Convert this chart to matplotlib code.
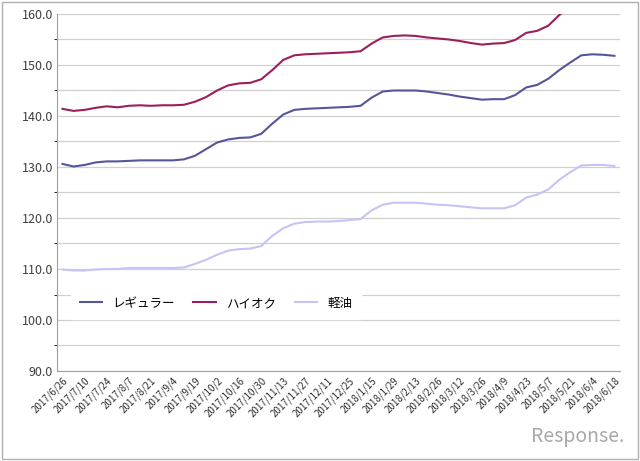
import matplotlib
matplotlib.use("Agg")
import matplotlib.pyplot as plt
from matplotlib.patches import Rectangle

plt.rcParams['font.family'] = ['Noto Sans CJK JP', 'DejaVu Sans']

# 週次データ (2017/6/26 ～ 2018/6/18, 年始の週は欠落)
dates = ["2017/6/26", "2017/7/3", "2017/7/10", "2017/7/17", "2017/7/24", "2017/7/31",
         "2017/8/7", "2017/8/14", "2017/8/21", "2017/8/28", "2017/9/4", "2017/9/11",
         "2017/9/19", "2017/9/25", "2017/10/2", "2017/10/10", "2017/10/16", "2017/10/23",
         "2017/10/30", "2017/11/6", "2017/11/13", "2017/11/20", "2017/11/27", "2017/12/4",
         "2017/12/11", "2017/12/18", "2017/12/25", "2018/1/9", "2018/1/15", "2018/1/22",
         "2018/1/29", "2018/2/5", "2018/2/13", "2018/2/19", "2018/2/26", "2018/3/5",
         "2018/3/12", "2018/3/19", "2018/3/26", "2018/4/2", "2018/4/9", "2018/4/16",
         "2018/4/23", "2018/4/30", "2018/5/7", "2018/5/14", "2018/5/21", "2018/5/28",
         "2018/6/4", "2018/6/11", "2018/6/18"]

regular = [130.6, 130.1, 130.4, 130.9, 131.1, 131.1, 131.2, 131.3, 131.3, 131.3,
           131.3, 131.5, 132.2, 133.5, 134.8, 135.4, 135.7, 135.8, 136.5, 138.5,
           140.3, 141.2, 141.4, 141.5, 141.6, 141.7, 141.8, 142.0, 143.6, 144.8,
           145.0, 145.0, 145.0, 144.8, 144.5, 144.2, 143.8, 143.5, 143.2, 143.3,
           143.3, 144.1, 145.6, 146.1, 147.3, 149.0, 150.5, 151.9, 152.1, 152.0,
           151.8]
highoc = [141.4, 141.0, 141.2, 141.6, 141.9, 141.7, 142.0, 142.1, 142.0, 142.1,
          142.1, 142.2, 142.8, 143.7, 145.0, 146.0, 146.4, 146.5, 147.2, 149.0,
          151.0, 151.9, 152.1, 152.2, 152.3, 152.4, 152.5, 152.7, 154.2, 155.4,
          155.7, 155.8, 155.7, 155.4, 155.2, 155.0, 154.7, 154.3, 154.0, 154.2,
          154.3, 154.9, 156.3, 156.7, 157.7, 159.8, 161.5, 162.8, 163.0, 163.0,
          162.8]
diesel = [109.9, 109.7, 109.7, 109.9, 110.0, 110.0, 110.2, 110.2, 110.2, 110.2,
          110.2, 110.3, 111.0, 111.8, 112.8, 113.6, 113.9, 114.0, 114.5, 116.5,
          118.0, 118.9, 119.2, 119.3, 119.3, 119.4, 119.6, 119.8, 121.5, 122.6,
          123.0, 123.0, 123.0, 122.8, 122.6, 122.5, 122.3, 122.1, 121.9, 121.9,
          121.9, 122.5, 124.0, 124.6, 125.6, 127.5, 129.0, 130.3, 130.4, 130.4,
          130.2]

fig = plt.figure(figsize=(6.4, 4.61), dpi=100)
fig.patches.append(Rectangle((0.003, 0.004), 0.994, 0.992, transform=fig.transFigure,
                             fill=False, edgecolor="#b0b0b0", linewidth=1))
ax = fig.add_axes([57 / 640, 1 - 371 / 461, 563 / 640, 357 / 461])

x = range(len(regular))
ax.plot(x, regular, color="#55559a", lw=1.5, label="レギュラー")
ax.plot(x, highoc, color="#9b1f5a", lw=1.5, label="ハイオク")
ax.plot(x, diesel, color="#c4c4f6", lw=1.5, label="軽油")

ax.set_xlim(-0.5, len(regular) - 0.5)
ax.set_ylim(90, 160)
ax.set_yticks(range(90, 161, 10))
ax.set_yticklabels([f"{v:.1f}" for v in range(90, 161, 10)], fontsize=9, color="#404040")
ax.set_yticks(range(95, 160, 10), minor=True)
ax.grid(True, which="both", axis="y", color="#d0d0d0", lw=0.9)
ax.set_axisbelow(True)
ax.set_xticks(list(x)[::2])
ax.set_xticklabels(dates[::2], rotation=45, ha="right",
                   rotation_mode="anchor", fontsize=7, color="#303030")
ax.tick_params(length=0, pad=3)
for s in ["top", "right"]:
    ax.spines[s].set_visible(False)
ax.spines["left"].set_color("#a0a0a0")
ax.spines["bottom"].set_color("#a0a0a0")

leg = ax.legend(loc="lower left", bbox_to_anchor=(0.02, 0.14), ncol=3, frameon=True,
                fontsize=9, handlelength=1.8, columnspacing=1.5, borderpad=0.4)
leg.get_frame().set_edgecolor("white")
leg.get_frame().set_alpha(1)
leg.get_frame().set_boxstyle("square")

fig.text(0.975, 0.03, "Response.", ha="right", va="bottom", fontsize=14,
         color="#a8a8a8", style="italic")

fig.savefig("out.png", dpi=100)
